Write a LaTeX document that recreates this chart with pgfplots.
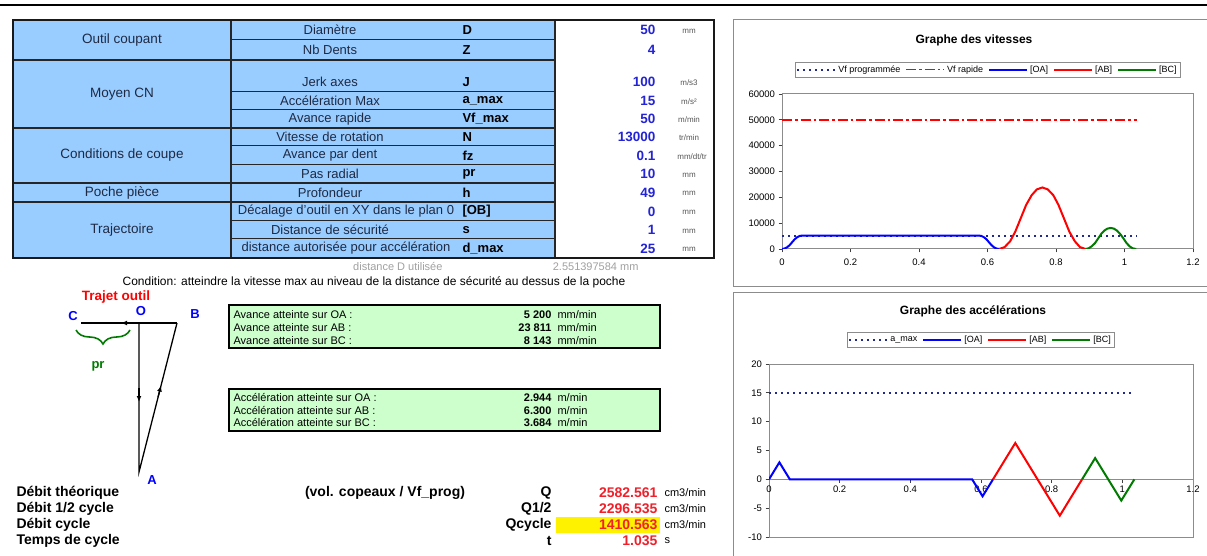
\documentclass[border=0pt]{standalone}
\usepackage{pgfplots}
\pgfplotsset{compat=1.18}
\usepackage{fontspec}
\setmainfont{Liberation Sans}
\usetikzlibrary{decorations.pathreplacing,arrows.meta}

\definecolor{cellblue}{HTML}{99CCFF}
\definecolor{cellgreen}{HTML}{CCFFCC}
\definecolor{labnavy}{HTML}{1E2A44}
\definecolor{valblue}{HTML}{2323D8}
\definecolor{unitgray}{HTML}{555555}
\definecolor{softgray}{HTML}{A0A0A0}
\definecolor{xlnavy}{HTML}{1F2A8C}
\definecolor{xlblue}{HTML}{0000FF}
\definecolor{xlred}{HTML}{FF0000}
\definecolor{xlgreen}{HTML}{007A00}
\definecolor{valred}{HTML}{F0202A}
\definecolor{framegray}{HTML}{8C8C8C}

\newcommand{\fs}[1]{\fontsize{#1}{#1}\selectfont}

\begin{document}
\begin{tikzpicture}[x=1pt,y=1pt]
\path[use as bounding box] (0,0) rectangle (1207,555);

\begin{scope}[y=-1pt,yshift=555pt]
% top rule
\fill (0,4) rectangle (1207,6.5);

% parameter table
\fill[cellblue] (13,20) rectangle (555,258);
\fill[white] (555,20) rectangle (714,258);
\foreach \yy in {40,92,110,146,165,221,239}
  \draw[black!85,line width=1pt] (231,\yy) -- (555,\yy);
\foreach \yy in {60,128,183,202}
  \draw[black!85,line width=1.3pt] (13,\yy) -- (555,\yy);
\draw[black!85,line width=1.3pt] (231,20) -- (231,258) (555,20) -- (555,258);
\draw[black!90,line width=1.8pt] (13,20) rectangle (714,258);

\begin{scope}[every node/.style={font=\fs{13.5},text=labnavy}]
\node at (122,40) {Outil coupant};
\node at (122,94) {Moyen CN};
\node at (122,155.5) {Conditions de coupe};
\node at (122,192.5) {Poche pièce};
\node at (122,230) {Trajectoire};
\end{scope}

\begin{scope}[every node/.style={font=\fs{13},text=labnavy}]
\node at (330,30) {Diamètre};
\node at (330,50) {Nb Dents};
\node at (330,82) {Jerk axes};
\node at (330,101) {Accélération Max};
\node at (330,119) {Avance rapide};
\node at (330,137) {Vitesse de rotation};
\node at (330,155.5) {Avance par dent};
\node at (330,174) {Pas radial};
\node at (330,192.5) {Profondeur};
\node at (346,211.5) {Décalage d'outil en XY dans le plan 0};
\node at (330,230) {Distance de sécurité};
\node at (346,248.5) {distance autorisée pour accélération};
\end{scope}

\begin{scope}[every node/.style={anchor=west,font=\bfseries\fs{13}}]
\node at (459,30) {D};
\node at (459,50) {Z};
\node at (459,82) {J};
\node at (459,101) {a\_max};
\node at (459,119) {Vf\_max};
\node at (459,137) {N};
\node at (459,155.5) {fz};
\node at (459,174) {pr};
\node at (459,192.5) {h};
\node at (459,211.5) {[OB]};
\node at (459,230) {s};
\node at (459,248.5) {d\_max};
\end{scope}

\begin{scope}[every node/.style={anchor=east,font=\bfseries\fs{13.5},text=valblue}]
\node at (659,30) {50};
\node at (659,50) {4};
\node at (659,82) {100};
\node at (659,101) {15};
\node at (659,119) {50};
\node at (659,137) {13000};
\node at (659,155.5) {0.1};
\node at (659,174) {10};
\node at (659,192.5) {49};
\node at (659,211.5) {0};
\node at (659,230) {1};
\node at (659,248.5) {25};
\end{scope}

\begin{scope}[every node/.style={font=\fs{8},text=unitgray}]
\node at (689,31) {mm};
\node at (689,83) {m/s3};
\node at (689,102) {m/s²};
\node at (689,120) {m/min};
\node at (689,138) {tr/min};
\node at (692,156.5) {mm/dt/tr};
\node at (689,175) {mm};
\node at (689,193.5) {mm};
\node at (689,212.5) {mm};
\node at (689,231) {mm};
\node at (689,249.5) {mm};
\end{scope}

\node[anchor=east,font=\fs{11},text=softgray] at (446,267) {distance D utilisée};
\node[anchor=east,font=\fs{11},text=softgray] at (642,267) {2.551397584 mm};
\node[font=\fs{12}] at (374,282) {Condition: atteindre la vitesse max au niveau de la distance de sécurité au dessus de la poche};

% tool path sketch
\node[font=\bfseries\fs{13.5},text=xlred] at (116,297) {Trajet outil};
\begin{scope}[every node/.style={font=\bfseries\fs{13},text=xlblue}]
\node at (73,316) {C};
\node at (141,311) {O};
\node at (195,314) {B};
\node at (152,480) {A};
\end{scope}
\draw[line width=1.3pt] (81,323) -- (177,323);
\draw[line width=1.3pt] (139,323) -- (139,472) -- (177,323);
\draw[line width=1.3pt,-{Latex[length=6pt,width=5pt]}] (134,323) -- (121,323);
\draw[line width=1.3pt,-{Latex[length=6pt,width=5pt]}] (139,388) -- (139,402);
\draw[line width=1.3pt,-{Latex[length=6pt,width=5pt]}] (158,397.2) -- (161,385.6);
\draw[xlgreen,line width=1.6pt,decorate,decoration={brace,amplitude=14pt}] (130,330) -- (76,330);
\node[font=\bfseries\fs{13},text=xlgreen] at (98,366) {pr};

% reached feeds
\fill[cellgreen] (229,305) rectangle (660,348);
\draw[line width=1.8pt] (229,305) rectangle (660,348);
\begin{scope}[every node/.style={anchor=west,font=\fs{11}}]
\node at (230,315) {Avance atteinte sur OA :};
\node at (230,328) {Avance atteinte sur AB :};
\node at (230,341) {Avance atteinte sur BC :};
\node at (554,315) {mm/min};
\node at (554,328) {mm/min};
\node at (554,341) {mm/min};
\end{scope}
\begin{scope}[every node/.style={anchor=east,font=\bfseries\fs{11}}]
\node at (555,315) {5 200};
\node at (555,328) {23 811};
\node at (555,341) {8 143};
\end{scope}

% reached accelerations
\fill[cellgreen] (229,389) rectangle (660,431);
\draw[line width=1.8pt] (229,389) rectangle (660,431);
\begin{scope}[every node/.style={anchor=west,font=\fs{11}}]
\node at (230,398) {Accélération atteinte sur OA :};
\node at (230,410.5) {Accélération atteinte sur AB :};
\node at (230,423) {Accélération atteinte sur BC :};
\node at (554,398) {m/min};
\node at (554,410.5) {m/min};
\node at (554,423) {m/min};
\end{scope}
\begin{scope}[every node/.style={anchor=east,font=\bfseries\fs{11}}]
\node at (555,398) {2.944};
\node at (555,410.5) {6.300};
\node at (555,423) {3.684};
\end{scope}

% flow rates
\begin{scope}[every node/.style={anchor=west,font=\bfseries\fs{14}}]
\node at (13,493) {Débit théorique};
\node at (13,509) {Débit 1/2 cycle};
\node at (13,525) {Débit cycle};
\node at (13,541) {Temps de cycle};
\end{scope}
\node[font=\bfseries\fs{14}] at (385,493) {(vol. copeaux / Vf\_prog)};
\begin{scope}[every node/.style={anchor=east,font=\bfseries\fs{14}}]
\node at (555,493) {Q};
\node at (555,509) {Q1/2};
\node at (555,525) {Qcycle};
\node at (555,541) {t};
\end{scope}
\fill[yellow] (556,517) rectangle (660,533);
\begin{scope}[every node/.style={anchor=east,font=\bfseries\fs{14},text=valred}]
\node at (661,493) {2582.561};
\node at (661,509) {2296.535};
\node at (661,525) {1410.563};
\node at (661,541) {1.035};
\end{scope}
\begin{scope}[every node/.style={anchor=west,font=\fs{11}}]
\node at (661,493) {cm3/min};
\node at (661,509) {cm3/min};
\node at (661,525) {cm3/min};
\node at (661,541) {s};
\end{scope}

% chart frames and titles
\draw[framegray,line width=1pt] (733,20) rectangle (1212,286);
\draw[framegray,line width=1pt] (733,292) rectangle (1212,562);
\node[font=\bfseries\fs{12}] at (974,40) {Graphe des vitesses};
\node[font=\bfseries\fs{12}] at (973,311) {Graphe des accélérations};
\end{scope}

\pgfplotsset{
  xlchart/.style={
    scale only axis,
    /pgf/number format/assume math mode=true,
    /pgf/number format/1000 sep={},
    ticklabel style={font=\fs{9.5}},
    axis line style={draw=framegray,line width=1pt},
    tick style={draw=black!75,line width=0.7pt},
    tick align=outside, major tick length=3.5pt,
    xtick pos=bottom, ytick pos=left,
    legend columns=-1,
    legend style={draw=framegray,font=\fs{9},inner sep=1.5pt,
      /tikz/every even column/.append style={column sep=3pt}},
    legend image code/.code={\draw[##1] (0pt,0pt) -- (38pt,0pt);},
  }
}

% speed chart
\begin{axis}[xlchart,
  at={(782pt,306pt)}, anchor=south west, width=411pt, height=155pt,
  xmin=0, xmax=1.2, ymin=0, ymax=60000,
  xtick={0,0.2,0.4,0.6,0.8,1,1.2},
  ytick={0,10000,20000,30000,40000,50000,60000},
  scaled y ticks=false,
  x tick label style={yshift=-3pt},
  legend style={at={(0.5,1.158)},anchor=center},
]
\addplot[color=xlnavy,line width=2pt,dash pattern=on 2pt off 4pt] coordinates {(0,5200) (1.035,5200)};
\addplot[color=xlred,line width=1.6pt,dash pattern=on 10pt off 3pt on 2.5pt off 3pt] coordinates {(0,50000) (1.035,50000)};
\addplot[color=xlblue,line width=2pt] coordinates {
(0,0) (0.0074,163) (0.0147,650) (0.0221,1463) (0.0294,2600) (0.0368,3737)
(0.0442,4550) (0.0515,5037) (0.0589,5200) (0.575,5200) (0.5824,5037)
(0.5897,4550) (0.5971,3737) (0.6044,2600) (0.6118,1463) (0.6192,650)
(0.6265,163) (0.634,0)};
\addplot[color=xlred,line width=2pt] coordinates {
(0.634,0) (0.650,744) (0.666,2977) (0.681,6698) (0.697,11907) (0.713,17116)
(0.729,20837) (0.744,23070) (0.760,23814) (0.776,23070) (0.792,20837)
(0.807,17116) (0.823,11907) (0.839,6698) (0.855,2977) (0.870,744) (0.886,0)};
\addplot[color=xlgreen,line width=2pt] coordinates {
(0.886,0) (0.895,254) (0.904,1018) (0.914,2290) (0.923,4072) (0.932,5853)
(0.941,7125) (0.950,7889) (0.960,8143) (0.969,7889) (0.978,7125) (0.987,5853)
(0.997,4072) (1.006,2290) (1.015,1018) (1.024,254) (1.034,0)};
\legend{Vf programmée, Vf rapide, {}[OA], {}[AB], {}[BC]}
\end{axis}

% acceleration chart: x labels sit on the zero line
\begin{axis}[xlchart,
  at={(769pt,18pt)}, anchor=south west, width=424pt, height=173pt,
  xmin=0, xmax=1.2, ymin=-10, ymax=20,
  xtick={0,0.2,0.4,0.6,0.8,1,1.2},
  ytick={-10,-5,0,5,10,15,20},
  x tick label style={yshift=57.67pt},
  x tick style={yshift=57.67pt},
  extra y ticks={0}, extra y tick labels={},
  extra y tick style={grid=major, major grid style={draw=framegray,line width=1pt}},
  legend style={at={(0.499,1.139)},anchor=center},
]
\addplot[color=xlnavy,line width=2pt,dash pattern=on 2pt off 4pt] coordinates {(0,15) (1.035,15)};
\addplot[color=xlblue,line width=2pt] coordinates {
(0,0) (0.0294,2.944) (0.0589,0) (0.575,0) (0.6044,-2.944) (0.634,0)};
\addplot[color=xlred,line width=2pt] coordinates {
(0.634,0) (0.697,6.3) (0.823,-6.3) (0.886,0)};
\addplot[color=xlgreen,line width=2pt] coordinates {
(0.886,0) (0.923,3.684) (0.997,-3.684) (1.034,0)};
\legend{a\_max, {}[OA], {}[AB], {}[BC]}
\end{axis}
\end{tikzpicture}
\end{document}
